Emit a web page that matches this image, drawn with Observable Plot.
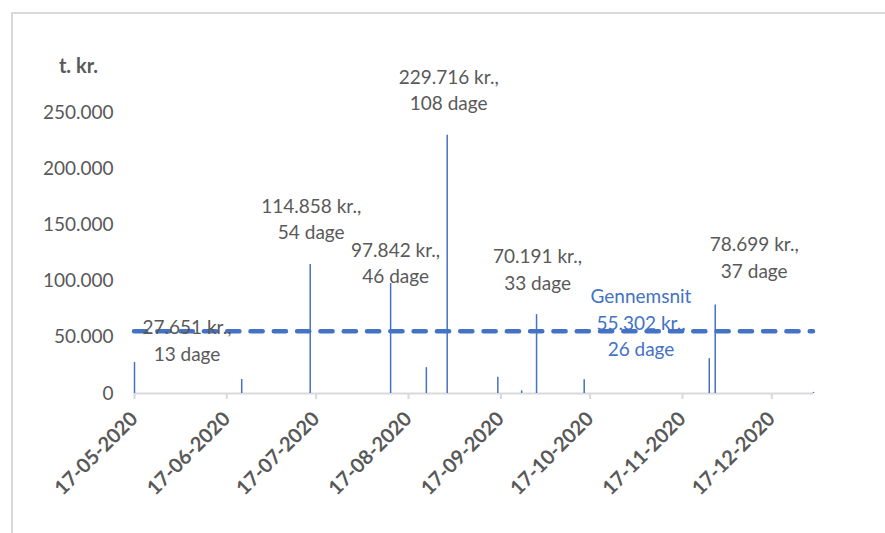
<!DOCTYPE html>
<html>
<head>
<meta charset="utf-8">
<script src="https://cdn.jsdelivr.net/npm/d3@7"></script>
<script src="https://cdn.jsdelivr.net/npm/@observablehq/plot@0.6"></script>
<style>
  html, body { margin: 0; padding: 0; background: #fff; }
  #wrap { position: relative; width: 885px; height: 533px; overflow: hidden; }
  #border { position: absolute; left: 11px; top: 12px; width: 900px; height: 600px;
            border-left: 2px solid #d9d9d9; border-top: 2px solid #d9d9d9; pointer-events: none; }
</style>
</head>
<body>
<div id="wrap"><div id="border"></div></div>
<script>
// ---- data ----
const dates   = ["2020-05-17","2020-06-22","2020-07-15","2020-08-11","2020-08-23","2020-08-30",
                 "2020-09-16","2020-09-24","2020-09-29","2020-10-15","2020-11-26","2020-11-28","2020-12-31"];
const amounts = [27651, 12500, 114858, 97842, 23000, 229716, 14500, 2400, 70191, 12200, 31000, 78699, 1000];
const dage    = [13, null, 54, 46, null, 108, null, null, 33, null, null, 37, null];
const avgAmount = 55302;
const avgDage = 26;
const avgLabel = "Gennemsnit";
const yLabel = "t. kr.";
const yTicks = [0, 50000, 100000, 150000, 200000, 250000];
const xTicks = ["2020-05-17","2020-06-17","2020-07-17","2020-08-17","2020-09-17","2020-10-17","2020-11-17","2020-12-17"];
const xDomain = ["2020-05-17","2020-12-31"];

// ---- build ----
const parse = d3.utcParse("%Y-%m-%d");
const fmtNum = d3.formatLocale({decimal: ",", thousands: ".", grouping: [3], currency: ["", ""]}).format(",d");
const fmtDate = d3.utcFormat("%d-%m-%Y");
const rows = dates.map((d, i) => ({date: parse(d), amount: amounts[i], dage: dage[i]}));

const blue = "#4472c4";
const grey = "#595959";
const axisGrey = "#d9d9d9";
const fontSize = 19;

// label offsets (px) for the labelled bars, by index
const labelOffsets = {0: [52.5, -23.5], 2: [1, -47], 3: [5, -22], 5: [1.5, -46.5], 8: [1, -46.5], 11: [39, -49]};

const labelMarks = Object.entries(labelOffsets).map(([i, [dx, dy]]) => {
  const r = rows[+i];
  return Plot.text([r], {
    x: "date", y: "amount",
    text: d => `${fmtNum(d.amount)} kr.,\n${d.dage} dage`,
    dx, dy, fill: grey, fontSize, lineHeight: 1.39, lineAnchor: "middle", textAnchor: "middle"
  });
});

const chart = Plot.plot({
  width: 885,
  height: 533,
  marginLeft: 134,
  marginRight: 72,
  marginTop: 112,
  marginBottom: 140,
  style: {fontFamily: "Lato, 'Open Sans', sans-serif", fontSize: fontSize + "px", color: grey, background: "transparent", overflow: "visible"},
  x: {type: "utc", domain: xDomain.map(parse)},
  y: {domain: [0, 250000]},
  marks: [
    Plot.axisY({ticks: yTicks, tickFormat: fmtNum, tickSize: 0, tickPadding: 21, label: null, fontSize, fill: grey}),
    Plot.axisX({ticks: xTicks.map(parse), tickFormat: fmtDate, tickRotate: -45, tickSize: 6, tickPadding: 16,
                stroke: axisGrey, strokeWidth: 2, label: null, fontSize: 20, fontWeight: "bold", fill: grey}),
    Plot.ruleY([0], {stroke: axisGrey, strokeWidth: 2}),
    Plot.ruleX(rows, {x: "date", y1: 0, y2: "amount", stroke: blue, strokeWidth: 1.5}),
    Plot.ruleY([avgAmount], {stroke: blue, strokeWidth: 4.5, strokeDasharray: "12.2,11.1", strokeLinecap: "round"}),
    ...labelMarks,
    Plot.text([avgAmount], {
      y: d => d, frameAnchor: "right", dx: -172.5, dy: -10,
      text: d => `${avgLabel}\n${fmtNum(d)} kr.,\n${avgDage} dage`,
      fill: blue, fontSize, lineHeight: 1.39, lineAnchor: "middle", textAnchor: "middle"
    }),
    Plot.text([yLabel], {frameAnchor: "top-left", dx: -56, dy: -54, text: d => d, fill: grey,
                         fontSize: 20, fontWeight: "bold", textAnchor: "middle"})
  ]
});
chart.style.position = "absolute";
chart.style.left = "0";
chart.style.top = "0";
document.getElementById("wrap").prepend(chart);
</script>
</body>
</html>
